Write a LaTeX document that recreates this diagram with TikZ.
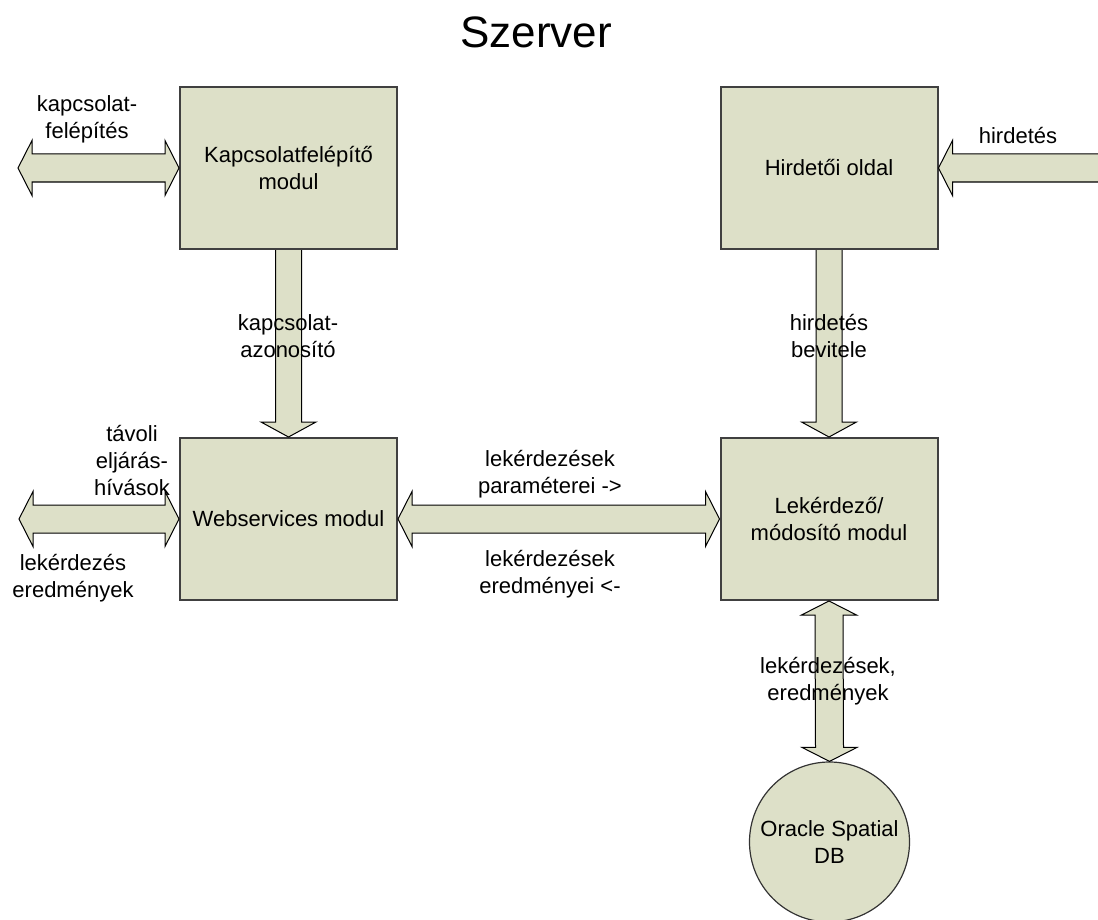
\documentclass[tikz,border=0pt]{standalone}
\usepackage{fontspec}
\setmainfont{Liberation Sans}
\usetikzlibrary{calc}
\definecolor{olivefill}{RGB}{221,224,200}
\begin{document}
\begin{tikzpicture}[x=0.5pt,y=-0.5pt,
  modbox/.style={draw=black!75,line width=1pt,fill=olivefill,minimum width=108.5pt,minimum height=81pt,inner sep=0pt,align=center,font=\fontsize{11}{13.5}\selectfont},
  dbnode/.style={circle,draw=black!80,line width=0.6pt,fill=olivefill,minimum size=80pt,inner sep=0pt,align=center,font=\fontsize{11}{13.5}\selectfont},
  blk/.style={draw=black,line width=0.5pt,fill=olivefill,line join=miter},
  lbl/.style={align=center,inner sep=0pt,font=\fontsize{11}{13.5}\selectfont}]
\useasboundingbox (0,0) rectangle (1098,920);
\begin{scope}
\clip (0,0) rectangle (1098,920);
% nodes
\node[modbox] (kap) at (288.5,168) {Kapcsolatfelépítő\\modul};
\node[modbox] (hir) at (829,168) {Hirdetői oldal};
\node[modbox] (web) at (288.5,519) {Webservices modul};
\node[modbox] (lek) at (829,519) {Lekérdező/\\módosító modul};
\node[dbnode] (db) at (829.5,842) {Oracle Spatial\\DB};
\coordinate (kapfree) at (18,168);
\coordinate (hirfree) at (1110,168);
\coordinate (webfree) at (19,519);
% double arrow: kapfree <-> kap
\draw[blk] (kapfree) -- ($(kapfree)+(14,-27.5)$) -- ($(kapfree)+(14,-14)$) -- ($(kap.west)+(-14,-14)$) -- ($(kap.west)+(-14,-27.5)$) -- (kap.west) -- ($(kap.west)+(-14,27.5)$) -- ($(kap.west)+(-14,14)$) -- ($(kapfree)+(14,14)$) -- ($(kapfree)+(14,27.5)$) -- cycle;
% single arrow: hirfree -> hir
\draw[blk] (hirfree) -- ($(hirfree)+(0,-14)$) -- ($(hir.east)+(14,-14)$) -- ($(hir.east)+(14,-27.5)$) -- (hir.east) -- ($(hir.east)+(14,27.5)$) -- ($(hir.east)+(14,14)$) -- ($(hirfree)+(0,14)$) -- cycle;
% vertical arrow kap -> web
\draw[blk] ($(kap.south)+(-13,0)$) -- ($(web.north)+(-13,-15)$) -- ($(web.north)+(-27.5,-15)$) -- (web.north) -- ($(web.north)+(27.5,-15)$) -- ($(web.north)+(13,-15)$) -- ($(kap.south)+(13,0)$);
% vertical arrow hir -> lek
\draw[blk] ($(hir.south)+(-13,0)$) -- ($(lek.north)+(-13,-15)$) -- ($(lek.north)+(-27.5,-15)$) -- (lek.north) -- ($(lek.north)+(27.5,-15)$) -- ($(lek.north)+(13,-15)$) -- ($(hir.south)+(13,0)$);
% double arrow webfree <-> web
\draw[blk] (webfree) -- ($(webfree)+(14,-27.5)$) -- ($(webfree)+(14,-14)$) -- ($(web.west)+(-14,-14)$) -- ($(web.west)+(-14,-27.5)$) -- (web.west) -- ($(web.west)+(-14,27.5)$) -- ($(web.west)+(-14,14)$) -- ($(webfree)+(14,14)$) -- ($(webfree)+(14,27.5)$) -- cycle;
% double arrow web <-> lek
\draw[blk] (web.east) -- ($(web.east)+(14,-27.5)$) -- ($(web.east)+(14,-14)$) -- ($(lek.west)+(-14,-14)$) -- ($(lek.west)+(-14,-27.5)$) -- (lek.west) -- ($(lek.west)+(-14,27.5)$) -- ($(lek.west)+(-14,14)$) -- ($(web.east)+(14,14)$) -- ($(web.east)+(14,27.5)$) -- cycle;
% double vertical arrow lek <-> db
\draw[blk] (lek.south) -- ($(lek.south)+(27.5,14)$) -- ($(lek.south)+(14,14)$) -- ($(db.north)+(14,-14)$) -- ($(db.north)+(27.5,-14)$) -- (db.north) -- ($(db.north)+(-27.5,-14)$) -- ($(db.north)+(-14,-14)$) -- ($(lek.south)+(-14,14)$) -- ($(lek.south)+(-27.5,14)$) -- cycle;
% labels
\node[font=\fontsize{22}{26}\selectfont,inner sep=0pt] (title) at (536,32) {Szerver};
\node[lbl] (lkapfel) at (87,119) {kapcsolat-\\felépítés};
\node[lbl] (lhird) at (1018,136) {hirdetés};
\node[lbl] (lkapaz) at (288,336) {kapcsolat-\\azonosító};
\node[lbl] (lhirbev) at (829,336) {hirdetés\\bevitele};
\node[lbl] (ltav) at (132,461) {távoli\\eljárás-\\hívások};
\node[lbl] (llek) at (73,578) {lekérdezés\\eredmények};
\node[lbl] (lpar) at (550,474) {lekérdezések\\paraméterei ->};
\node[lbl] (lered) at (550,574) {lekérdezések\\eredményei <-};
\node[lbl] (ldb) at (828,681) {lekérdezések,\\eredmények};
\end{scope}
\end{tikzpicture}
\end{document}
